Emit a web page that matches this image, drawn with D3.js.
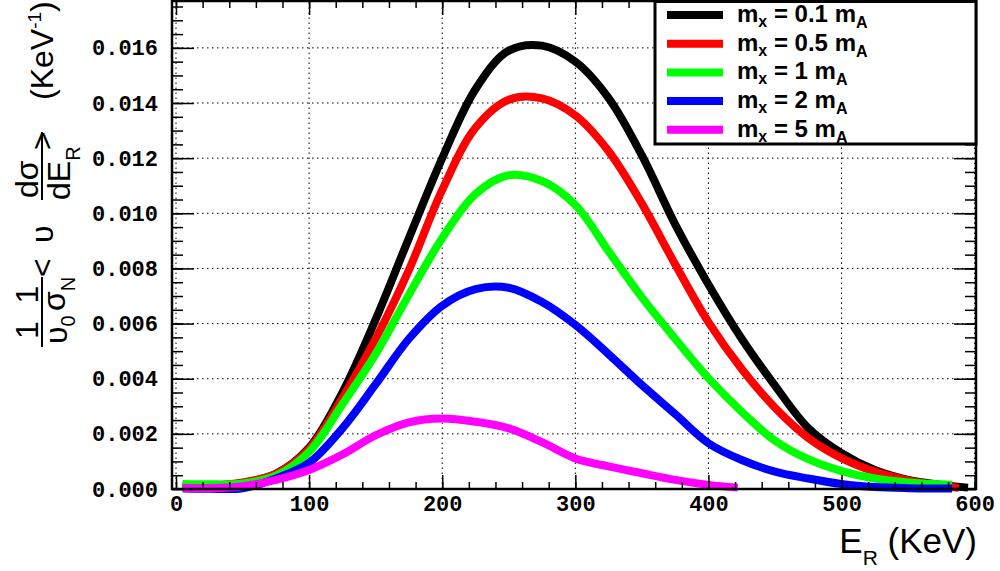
<!DOCTYPE html>
<html>
<head>
<meta charset="utf-8">
<script src="https://cdn.jsdelivr.net/npm/d3@7"></script>
<style>
  body { margin: 0; background: #fff; }
  svg { display: block; }
  .tick text { font-family: "Liberation Mono", "DejaVu Sans Mono", monospace; font-weight: bold; font-size: 22px; fill: #000; }
</style>
</head>
<body>
<div id="viz"></div>
<script>
// recoil energy grid (KeV)
var energies = [5, 25, 50, 75, 100, 125, 150, 175, 200, 225, 250, 275, 300, 325, 350, 375, 400, 425, 450, 475, 500, 525, 550, 575];

// mx = 0.1 mA
var rate01 = [0.00010, 0.00012, 0.00022, 0.00055, 0.00150, 0.00350, 0.00615, 0.00910, 0.01200, 0.01450, 0.01590, 0.01608, 0.01550, 0.01418, 0.01210, 0.00960, 0.00742, 0.00545, 0.00375, 0.00221, 0.00130, 0.00069, 0.00033, 0.00015];
// mx = 0.5 mA
var rate05 = [0.00010, 0.00012, 0.00024, 0.00055, 0.00145, 0.00330, 0.00545, 0.00795, 0.01085, 0.01310, 0.01412, 0.01417, 0.01355, 0.01225, 0.01035, 0.00815, 0.00605, 0.00435, 0.00295, 0.00185, 0.00112, 0.00063, 0.00031, 0.00012];
// mx = 1 mA
var rate1 = [0.00018, 0.00017, 0.00020, 0.00048, 0.00135, 0.00307, 0.00490, 0.00705, 0.00910, 0.01070, 0.01138, 0.01117, 0.01030, 0.00862, 0.00695, 0.00545, 0.00402, 0.00280, 0.00175, 0.00108, 0.00065, 0.00038, 0.00024, 0.00017];
// mx = 2 mA
var rate2 = [0.00002, 0.00001, 0.00003, 0.00038, 0.00095, 0.00220, 0.00380, 0.00545, 0.00665, 0.00725, 0.00730, 0.00678, 0.00595, 0.00489, 0.00377, 0.00272, 0.00166, 0.00105, 0.00063, 0.00038, 0.00018, 0.00007, 0.00003, 0.00002];
// mx = 5 mA (stops before 425 KeV)
var rate5 = [0.00004, 0.00003, 0.00010, 0.00033, 0.00069, 0.00125, 0.00195, 0.00242, 0.00256, 0.00244, 0.00220, 0.00170, 0.00111, 0.00082, 0.00057, 0.00033, 0.00015];

// last sample of each curve
var tailEnergy = [595, 588, 583, 583, 422];
var tailRate = [0.00005, 0.00004, 0.00015, 0.00002, 0.00005];

var massLabels = ["0.1", "0.5", "1", "2", "5"];
var colors = ["#000000", "#ff0000", "#00ff00", "#0000ff", "#ff00ff"];

var xTicks = [0, 100, 200, 300, 400, 500, 600];
var yTicks = [0, 0.002, 0.004, 0.006, 0.008, 0.010, 0.012, 0.014, 0.016];

var width = 1000,
    height = 571;

var x = d3.scaleLinear()
  .domain([-3, 601])
  .range([172, 976]);

var y = d3.scaleLinear()
  .domain([0, 0.0177])
  .range([489, 1]);

var series = [rate01, rate05, rate1, rate2, rate5].map(function(vals, i) {
  var pts = vals.map(function(v, j) { return [energies[j], v]; });
  pts.push([tailEnergy[i], tailRate[i]]);
  return { color: colors[i], label: massLabels[i], points: pts };
});

var svg = d3.select("#viz")
  .append("svg")
    .attr("width", width)
    .attr("height", height)
    .style("background", "#fff");

// dotted grid
var grid = svg.append("g")
  .attr("stroke", "#000")
  .attr("stroke-width", 1)
  .attr("stroke-dasharray", "1.5,3.5");

grid.selectAll(".gx")
  .data(xTicks)
  .enter()
  .append("line")
    .attr("x1", function(d) { return x(d); })
    .attr("x2", function(d) { return x(d); })
    .attr("y1", y.range()[0])
    .attr("y2", y.range()[1]);

grid.selectAll(".gy")
  .data(yTicks)
  .enter()
  .append("line")
    .attr("x1", x.range()[0])
    .attr("x2", x.range()[1])
    .attr("y1", function(d) { return y(d); })
    .attr("y2", function(d) { return y(d); });

// curves
var line = d3.line()
  .x(function(d) { return x(d[0]); })
  .y(function(d) { return y(d[1]); })
  .curve(d3.curveCatmullRom.alpha(0.5));

svg.selectAll(".curve")
  .data(series)
  .enter()
  .append("path")
    .attr("class", "curve")
    .attr("fill", "none")
    .attr("stroke", function(d) { return d.color; })
    .attr("stroke-width", 8)
    .attr("d", function(d) { return line(d.points); });

// axes, ticks pointing inwards like ROOT
var minorX = d3.range(0, 601, 20),
    minorY = d3.range(0, 0.0176, 0.0005);

svg.append("g")
  .attr("transform", "translate(0," + y.range()[0] + ")")
  .call(d3.axisBottom(x).tickValues(xTicks).tickSizeInner(-14).tickSizeOuter(0).tickPadding(6));

svg.append("g")
  .attr("transform", "translate(0," + y.range()[0] + ")")
  .call(d3.axisBottom(x).tickValues(minorX).tickFormat("").tickSizeInner(-7).tickSizeOuter(0));

svg.append("g")
  .attr("transform", "translate(0," + y.range()[1] + ")")
  .call(d3.axisTop(x).tickValues(xTicks).tickFormat("").tickSizeInner(-14).tickSizeOuter(0));

svg.append("g")
  .attr("transform", "translate(0," + y.range()[1] + ")")
  .call(d3.axisTop(x).tickValues(minorX).tickFormat("").tickSizeInner(-7).tickSizeOuter(0));

svg.append("g")
  .attr("transform", "translate(" + x.range()[0] + ",0)")
  .call(d3.axisLeft(y).tickValues(yTicks).tickFormat(d3.format(".3f")).tickSizeInner(-22).tickSizeOuter(0).tickPadding(14));

svg.append("g")
  .attr("transform", "translate(" + x.range()[0] + ",0)")
  .call(d3.axisLeft(y).tickValues(minorY).tickFormat("").tickSizeInner(-11).tickSizeOuter(0));

svg.append("g")
  .attr("transform", "translate(" + x.range()[1] + ",0)")
  .call(d3.axisRight(y).tickValues(yTicks).tickFormat("").tickSizeInner(-22).tickSizeOuter(0));

svg.append("g")
  .attr("transform", "translate(" + x.range()[1] + ",0)")
  .call(d3.axisRight(y).tickValues(minorY).tickFormat("").tickSizeInner(-11).tickSizeOuter(0));

svg.selectAll(".domain").remove();
svg.selectAll(".tick line").attr("stroke", "#000").attr("stroke-width", 1.5);

// frame
svg.append("rect")
  .attr("x", x.range()[0])
  .attr("y", y.range()[1])
  .attr("width", x.range()[1] - x.range()[0])
  .attr("height", y.range()[0] - y.range()[1])
  .attr("fill", "none")
  .attr("stroke", "#000")
  .attr("stroke-width", 2.5);

// x title
var xt = svg.append("text")
  .attr("x", 977)
  .attr("y", 553)
  .attr("text-anchor", "end")
  .style("font-family", "'Liberation Sans', Arial, sans-serif")
  .style("font-size", "35px");
xt.append("tspan").text("E");
xt.append("tspan").attr("dy", 12).style("font-size", "21px").text("R");
xt.append("tspan").attr("dy", -12).text(" (KeV)");

// y title, rotated; pieces placed by (screen y of start, screen x of baseline)
var yt = svg.append("g")
  .attr("transform", "rotate(-90)")
  .style("font-family", "'Liberation Sans', Arial, sans-serif")
  .style("font-size", "32px");

function piece(sy, sx, anchor) {
  return yt.append("text")
    .attr("x", -sy)
    .attr("y", sx)
    .attr("text-anchor", anchor || "start");
}

piece(330, 38, "middle").text("1");
var d1 = piece(344, 67);
d1.append("tspan").text("\u03c5");
d1.append("tspan").attr("dy", 8).style("font-size", "20px").text("0");

piece(294.5, 38, "middle").text("1");
var d2 = piece(311, 65);
d2.append("tspan").text("\u03c3");
d2.append("tspan").attr("dy", 10).style("font-size", "20px").text("N");

piece(277, 53).text("<");
piece(243, 53).text("\u03c5");

piece(198, 38).text("d\u03c3");
piece(150, 53).text(">");
var d3n = piece(200, 70);
d3n.append("tspan").text("dE");
d3n.append("tspan").attr("dy", 10).style("font-size", "20px").text("R");

var unit = piece(100, 53);
unit.append("tspan").text("(KeV");
unit.append("tspan").attr("dy", -12).style("font-size", "19px").text("-1");
unit.append("tspan").attr("dy", 12).text(")");

yt.selectAll(".bar")
  .data([[347, 277], [200, 132]])
  .enter()
  .append("line")
    .attr("x1", function(d) { return -d[0]; })
    .attr("x2", function(d) { return -d[1]; })
    .attr("y1", 42)
    .attr("y2", 42)
    .attr("stroke", "#000")
    .attr("stroke-width", 2);

// legend
var legend = svg.append("g");

legend.append("rect")
  .attr("x", 655)
  .attr("y", 1.5)
  .attr("width", 321)
  .attr("height", 142.5)
  .attr("fill", "#fff")
  .attr("stroke", "#000")
  .attr("stroke-width", 3);

var rows = legend.selectAll(".row")
  .data(series)
  .enter()
  .append("g")
    .attr("transform", function(d, i) { return "translate(0," + (15 + i * 28.7) + ")"; });

rows.append("line")
  .attr("x1", 667)
  .attr("x2", 723)
  .attr("stroke", function(d) { return d.color; })
  .attr("stroke-width", 8);

var lt = rows.append("text")
  .attr("x", 737)
  .attr("y", 7)
  .style("font-family", "'Liberation Sans', Arial, sans-serif")
  .style("font-weight", "bold")
  .style("font-size", "24px");
lt.append("tspan").text("m");
lt.append("tspan").attr("dy", 5).style("font-size", "16px").text("x");
lt.append("tspan").attr("dy", -5).text(function(d) { return " = " + d.label + " m"; });
lt.append("tspan").attr("dy", 6).style("font-size", "16px").text("A");
</script>
</body>
</html>
